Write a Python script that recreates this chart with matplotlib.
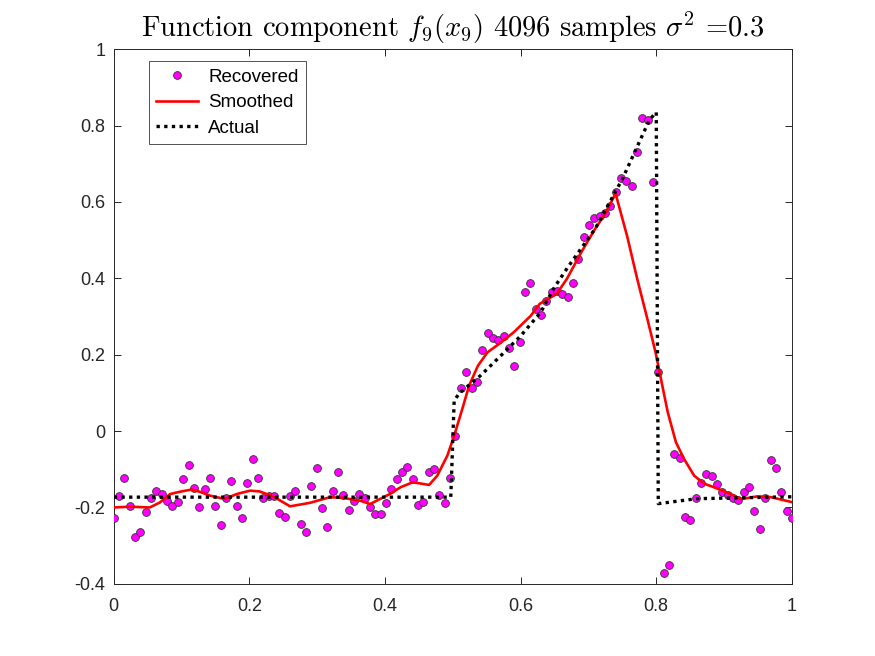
import numpy as np
import matplotlib
matplotlib.use("Agg")
import matplotlib.pyplot as plt

plt.rcParams['axes.unicode_minus'] = False
plt.rcParams['mathtext.fontset'] = 'cm'

# Recovered samples (128 equally spaced points on [0, 1])
recovered_y = [
    -0.227, -0.169, -0.124, -0.197, -0.278, -0.263, -0.213, -0.176, -0.157, -0.165,
    -0.184, -0.197, -0.185, -0.125, -0.090, -0.149, -0.200, -0.152, -0.122, -0.196,
    -0.245, -0.176, -0.130, -0.197, -0.228, -0.137, -0.074, -0.124, -0.176, -0.169,
    -0.171, -0.214, -0.225, -0.171, -0.158, -0.244, -0.263, -0.145, -0.096, -0.202,
    -0.250, -0.157, -0.108, -0.167, -0.206, -0.182, -0.165, -0.175, -0.198, -0.217,
    -0.217, -0.188, -0.152, -0.126, -0.106, -0.095, -0.126, -0.193, -0.187, -0.108,
    -0.098, -0.167, -0.188, -0.124, -0.013, 0.113, 0.156, 0.113, 0.128, 0.213,
    0.256, 0.243, 0.239, 0.250, 0.217, 0.171, 0.234, 0.363, 0.388, 0.320,
    0.304, 0.340, 0.363, 0.367, 0.359, 0.352, 0.387, 0.451, 0.509, 0.540,
    0.557, 0.562, 0.571, 0.590, 0.625, 0.664, 0.654, 0.641, 0.730, 0.819,
    0.815, 0.651, 0.154, -0.372, -0.350, -0.060, -0.070, -0.224, -0.234, -0.175,
    -0.137, -0.112, -0.117, -0.139, -0.159, -0.167, -0.176, -0.180, -0.159, -0.147,
    -0.209, -0.256, -0.175, -0.077, -0.097, -0.160, -0.210, -0.227,
]
recovered_x = np.linspace(0, 1, len(recovered_y))

# Smoothed curve
smooth_x = [0.0, 0.024, 0.053, 0.068, 0.083, 0.097, 0.115, 0.127, 0.142, 0.164,
            0.181, 0.201, 0.215, 0.235, 0.260, 0.289, 0.319, 0.338, 0.363, 0.378,
            0.407, 0.423, 0.441, 0.465, 0.477, 0.492, 0.502, 0.514, 0.524, 0.537,
            0.551, 0.571, 0.590, 0.615, 0.628, 0.653, 0.668, 0.690, 0.710, 0.725,
            0.740, 0.757, 0.772, 0.787, 0.799, 0.807, 0.817, 0.829, 0.841, 0.856,
            0.871, 0.885, 0.910, 0.925, 0.949, 0.969, 1.0]
smooth_y = [-0.200, -0.198, -0.200, -0.187, -0.165, -0.159, -0.153, -0.159, -0.169, -0.178,
            -0.165, -0.156, -0.158, -0.171, -0.197, -0.188, -0.173, -0.175, -0.182, -0.191,
            -0.165, -0.147, -0.134, -0.141, -0.117, -0.064, -0.012, 0.058, 0.119, 0.171,
            0.206, 0.232, 0.259, 0.302, 0.333, 0.359, 0.398, 0.470, 0.530, 0.570,
            0.622, 0.511, 0.398, 0.293, 0.206, 0.136, 0.049, -0.029, -0.073, -0.117,
            -0.138, -0.147, -0.165, -0.178, -0.171, -0.173, -0.186]

# Actual function
actual_x = [0.0, 0.497, 0.502, 0.51, 0.54, 0.57, 0.60, 0.63, 0.65, 0.67,
            0.71, 0.75, 0.79, 0.80, 0.803, 0.86, 1.0]
actual_y = [-0.173, -0.173, 0.08, 0.10, 0.144, 0.196, 0.249, 0.312, 0.377, 0.43,
            0.53, 0.66, 0.815, 0.835, -0.19, -0.177, -0.172]

xticks = [0, 0.2, 0.4, 0.6, 0.8, 1]
xticklabels = ['0', '0.2', '0.4', '0.6', '0.8', '1']
yticks = [-0.4, -0.2, 0, 0.2, 0.4, 0.6, 0.8, 1]
yticklabels = ['-0.4', '-0.2', '0', '0.2', '0.4', '0.6', '0.8', '1']

fig = plt.figure(figsize=(8.75, 6.56), dpi=100)
ax = fig.add_axes([0.13, 0.11, 0.775, 0.815])

ax.plot(recovered_x, recovered_y, linestyle='none', marker='o', markersize=5.6,
        markerfacecolor='#ff00ff', markeredgecolor='#333333', markeredgewidth=0.6,
        label='Recovered', zorder=3)
ax.plot(smooth_x, smooth_y, color='#ff0000', linewidth=1.9, label='Smoothed', zorder=4,
        solid_joinstyle='round')
ax.plot(actual_x, actual_y, color='black', linewidth=2.4, linestyle=(0, (1, 1.3)),
        dash_capstyle='butt', label='Actual', zorder=5)

ax.set_xlim(0, 1)
ax.set_ylim(-0.4, 1)
ax.set_xticks(xticks)
ax.set_xticklabels(xticklabels)
ax.set_yticks(yticks)
ax.set_yticklabels(yticklabels)

gray = '#262626'
for s in ax.spines.values():
    s.set_color(gray)
    s.set_linewidth(0.7)
ax.tick_params(axis='both', direction='in', top=True, right=True, length=5,
               width=0.7, color=gray, labelcolor=gray, labelsize=13)
ax.tick_params(axis='x', pad=10)
ax.tick_params(axis='y', pad=6)
for lab in ax.get_xticklabels() + ax.get_yticklabels():
    lab.set_fontfamily('Liberation Sans')

ax.set_title(r'Function component $f_9(x_9)$ 4096 samples $\sigma^2$ =0.3',
             fontsize=20.5, fontfamily='cmr10', color='black', pad=9)

leg = ax.legend(loc='upper left', bbox_to_anchor=(0.0516, 0.9776), frameon=True,
                fancybox=False, shadow=False, borderaxespad=0,
                prop={'family': 'Liberation Sans', 'size': 13.5},
                handlelength=2.25, handletextpad=0.52, labelspacing=0.45,
                borderpad=0.4)
leg.get_frame().set_edgecolor(gray)
leg.get_frame().set_linewidth(0.7)

fig.savefig('out.png', dpi=100, facecolor='white')
